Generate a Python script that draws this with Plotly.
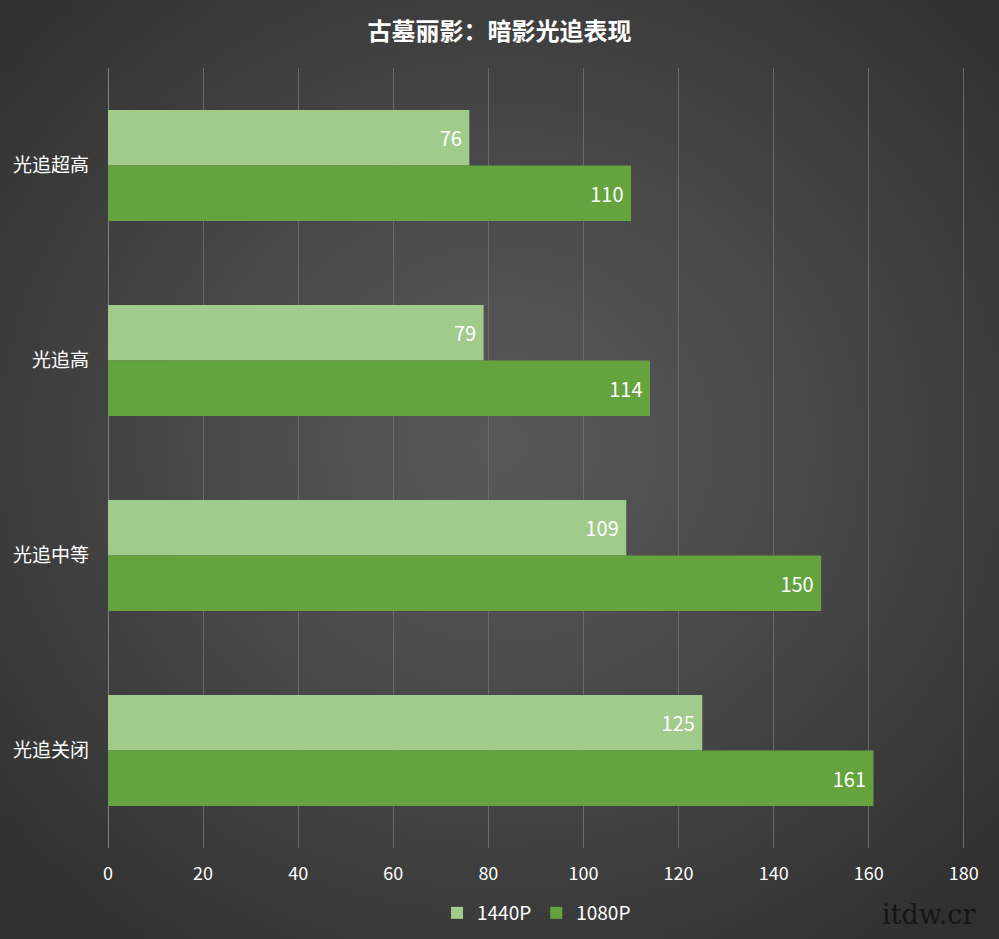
import base64, struct, zlib
import numpy as np
import plotly.graph_objects as go

categories = ["光追超高", "光追高", "光追中等", "光追关闭"]
series_names = ["1440P", "1080P"]
values_1440 = [76, 79, 109, 125]
values_1080 = [110, 114, 150, 161]
x_ticks = [0, 20, 40, 60, 80, 100, 120, 140, 160, 180]

# radial gradient background image
W, H = 250, 235
yy, xx = np.mgrid[0:H, 0:W]
d = np.sqrt(((xx - W * 0.5) / (W * 0.68)) ** 2 + ((yy - H * 0.47) / (H * 0.68)) ** 2)
d = np.clip(d, 0, 1)
inner, outer = 88.0, 48.0
v = (inner + (outer - inner) * d ** 1.2).astype(np.uint8)
img = np.stack([v, v, v], axis=-1)
raw = b"".join(b"\x00" + img[r].tobytes() for r in range(H))
def chunk(t, data):
    c = struct.pack(">I", len(data)) + t + data
    return c + struct.pack(">I", zlib.crc32(t + data) & 0xffffffff)
png = b"\x89PNG\r\n\x1a\n" + chunk(b"IHDR", struct.pack(">IIBBBBB", W, H, 8, 2, 0, 0, 0)) \
    + chunk(b"IDAT", zlib.compress(raw, 9)) + chunk(b"IEND", b"")
bg_uri = "data:image/png;base64," + base64.b64encode(png).decode()

font_cjk = "Noto Sans CJK SC, Noto Sans, sans-serif"

L, R, T, B = 108, 34, 68, 91
PW, PH = 999 - L - R, 939 - T - B

fig = go.Figure()
fig.add_trace(go.Bar(
    y=categories, x=values_1440, name=series_names[0], orientation="h",
    marker=dict(color="#a0cb8a", line=dict(width=0)),
    text=[f"{v} " for v in values_1440], textposition="inside", insidetextanchor="end",
    textfont=dict(color="white", size=20, family=font_cjk),
))
fig.add_trace(go.Bar(
    y=categories, x=values_1080, name=series_names[1], orientation="h",
    marker=dict(color="#64a33e", line=dict(width=0)),
    text=[f"{v} " for v in values_1080], textposition="inside", insidetextanchor="end",
    textfont=dict(color="white", size=20, family=font_cjk),
))

fig.update_layout(
    width=999, height=939,
    margin=dict(l=L, r=R, t=T, b=B, autoexpand=False),
    paper_bgcolor="#3a3a3a", plot_bgcolor="rgba(0,0,0,0)",
    barmode="group", bargap=0.43, bargroupgap=0,
    title=dict(text="<b>古墓丽影：暗影光追表现</b>", x=0.5, xanchor="center",
               y=1 - 32 / 939, yanchor="middle",
               font=dict(color="white", size=24, family=font_cjk)),
    font=dict(family=font_cjk, color="white"),
    xaxis=dict(range=[0, 180.25], tickvals=x_ticks, showgrid=True,
               gridcolor="#6a6a6a", gridwidth=1, zeroline=True,
               zerolinecolor="#808080", zerolinewidth=1,
               tickfont=dict(color="white", size=18, family=font_cjk),
               ticks="", ticklabelstandoff=13, showline=False, automargin=False),
    yaxis=dict(autorange="reversed", tickfont=dict(color="white", size=19, family=font_cjk),
               ticks="", ticklabelstandoff=18, showgrid=False, showline=False, automargin=False),
    legend=dict(orientation="h", x=0.5, xanchor="center", yref="container",
                y=(939 - 913) / 939, yanchor="middle",
                font=dict(color="white", size=19, family=font_cjk),
                bgcolor="rgba(0,0,0,0)", traceorder="normal", itemwidth=30),
    showlegend=True,
    images=[dict(source=bg_uri, xref="paper", yref="paper", x=-L / PW, y=1 + T / PH,
                 sizex=999 / PW, sizey=939 / PH, sizing="stretch", layer="below",
                 xanchor="left", yanchor="top")],
    annotations=[dict(text="itdw.cr", xref="paper", yref="paper",
                      x=(977 - L) / PW, y=-(915 - (939 - B)) / PH, xanchor="right", yanchor="middle",
                      showarrow=False,
                      font=dict(color="#151515", size=27, family="DejaVu Serif, serif"))],
)
fig.write_html("out.html", config={"displayModeBar": False},
               post_script="document.body.style.margin='0px';document.body.style.background='#3a3a3a';document.body.style.overflow='hidden';")
